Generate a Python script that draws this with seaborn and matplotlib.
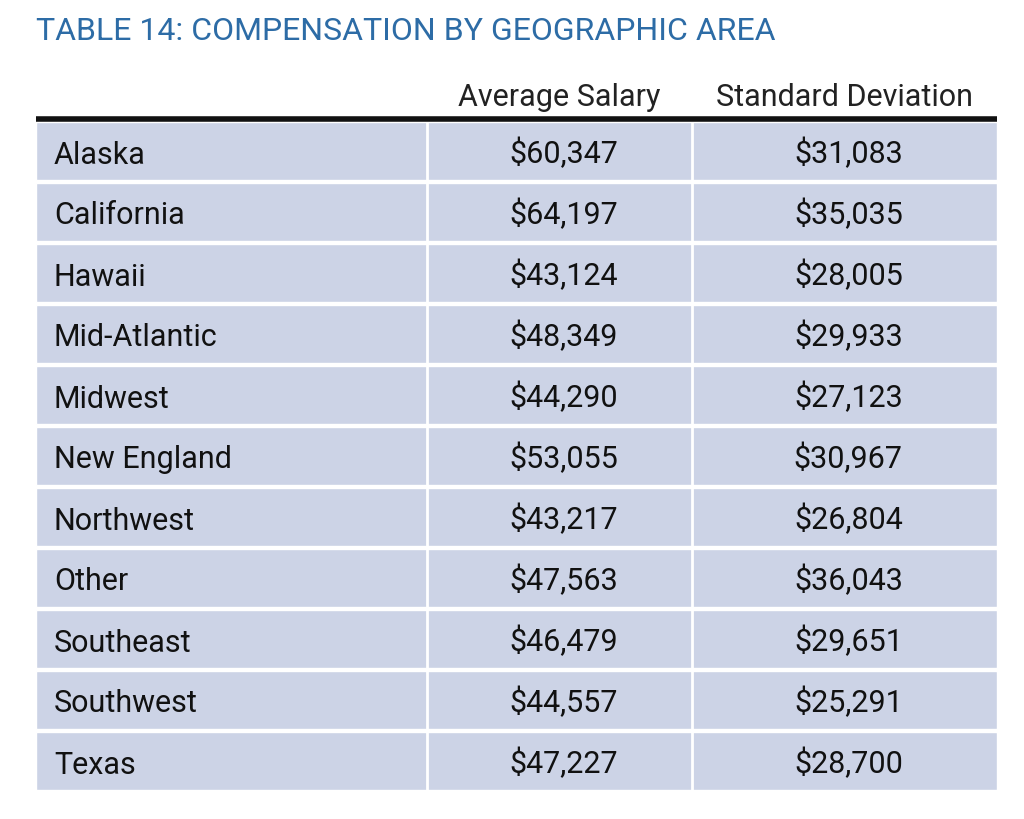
import matplotlib
matplotlib.use("Agg")
import matplotlib.pyplot as plt
import seaborn as sns
import pandas as pd

regions = ["Alaska", "California", "Hawaii", "Mid-Atlantic", "Midwest", "New England",
           "Northwest", "Other", "Southeast", "Southwest", "Texas"]
avg_salary = [60347, 64197, 43124, 48349, 44290, 53055, 43217, 47563, 46479, 44557, 47227]
std_dev = [31083, 35035, 28005, 29933, 27123, 30967, 26804, 36043, 29651, 25291, 28700]
col_headers = ["Average Salary", "Standard Deviation"]
title = "TABLE 14: COMPENSATION BY GEOGRAPHIC AREA"

sns.set_style("white")
FONT = ["Roboto", "DejaVu Sans"]
plt.rcParams["font.family"] = FONT

W, H = 1024, 820
fig = plt.figure(figsize=(W / 100, H / 100), dpi=100)
left, right, top, bottom = 36, 997, 123, 791
ax = fig.add_axes([left / W, 1 - bottom / H, (right - left) / W, (bottom - top) / H])

df = pd.DataFrame({"region": regions, "full": [1.0] * len(regions)})
bar_w = 58 / 61
sns.barplot(data=df, y="region", x="full", orient="h", color="#ccd3e6",
            width=bar_w, saturation=1, ax=ax)
ax.set_xlim(0, 1)
ax.set_ylim(len(regions) - 1 + bar_w / 2, -bar_w / 2)
ax.axis("off")

c1 = (427 - left) / (right - left)
c2 = (692 - left) / (right - left)
for c in (c1, c2):
    ax.axvline(c, color="white", lw=2)

mid1 = (c1 + c2) / 2 + 0.004
mid2 = (c2 + 1) / 2 + 0.004
txt = "#111111"
fs = 22
base = 11.5 / 61
for i, (r, a, s) in enumerate(zip(regions, avg_salary, std_dev)):
    ax.text(18 / (right - left), i + base, r, ha="left", va="baseline", fontsize=fs, color=txt)
    ax.text(mid1, i + base, f"${a:,}", ha="center", va="baseline", fontsize=fs, color=txt)
    ax.text(mid2, i + base, f"${s:,}", ha="center", va="baseline", fontsize=fs, color=txt)

# header
fig.text(559 / W, 1 - 106 / H, col_headers[0], ha="center", va="baseline", fontsize=fs, color="#222222")
fig.text(845 / W, 1 - 106 / H, col_headers[1], ha="center", va="baseline", fontsize=fs, color="#222222")
fig.add_artist(plt.Line2D([left / W, right / W], [1 - 119.5 / H, 1 - 119.5 / H],
                          color="#111111", lw=4, solid_capstyle="butt"))

fig.text(left / W, 1 - 40 / H, title, ha="left", va="baseline", fontsize=23, color="#2d6ca6")

fig.savefig("out.png", dpi=100, facecolor="white")
